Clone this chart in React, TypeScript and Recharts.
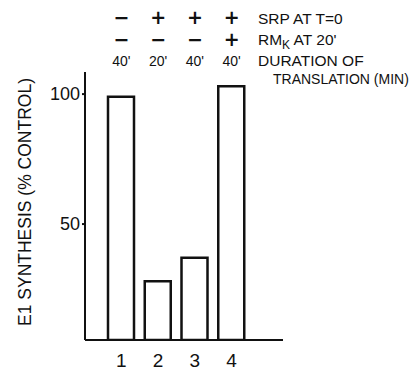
import React from "react";
import { BarChart, Bar, XAxis, YAxis } from "recharts";

const lanes = ["1", "2", "3", "4"];
const synthesis = [99, 28, 37, 103];
const srpAtT0 = ["−", "+", "+", "+"];
const rmkAt20 = ["−", "−", "−", "+"];
const durationMin = ["40'", "20'", "40'", "40'"];
const yTicks = [50, 100];

const data = lanes.map((lane, i) => ({ lane, value: synthesis[i] }));

const INK = "#111";
const SANS = "'Liberation Sans', Arial, sans-serif";
const NARROW = "'Liberation Sans Narrow', 'Liberation Sans', sans-serif";
const SYMBOL = "'DejaVu Sans', sans-serif";

// the lane number plus the three condition rows above the plot share the lane's x
// @ts-ignore
const LaneTick = ({ x, payload }) => {
  const i = payload.index;
  return (
    <g>
      <text x={x} y={24} textAnchor="middle" fontFamily={SYMBOL} fontWeight="bold" fontSize={19} fill={INK}>
        {srpAtT0[i]}
      </text>
      <text x={x} y={46} textAnchor="middle" fontFamily={SYMBOL} fontWeight="bold" fontSize={19} fill={INK}>
        {rmkAt20[i]}
      </text>
      <text x={x} y={66} textAnchor="middle" fontFamily={NARROW} fontSize={14} fill={INK}>
        {durationMin[i]}
      </text>
      <text x={x} y={367} textAnchor="middle" fontFamily={NARROW} fontSize={19} fill={INK}>
        {payload.value}
      </text>
    </g>
  );
};

const App = () => {
  return (
    <div style={{ position: "absolute", left: 0, top: 0, width: 409, height: 370, background: "#fff" }}>
      <BarChart
        width={409}
        height={370}
        data={data}
        margin={{ top: 72, right: 126, bottom: 5, left: 45 }}
      >
        <XAxis
          dataKey="lane"
          height={25}
          padding={{ left: 18, right: 33 }}
          axisLine={{ stroke: INK, strokeWidth: 2 }}
          tickLine={false}
          interval={0}
          tick={LaneTick}
        />
        <YAxis
          width={40}
          domain={[5.4, 108.5]}
          ticks={yTicks}
          allowDataOverflow
          axisLine={{ stroke: INK, strokeWidth: 2 }}
          tickLine={{ stroke: INK, strokeWidth: 2 }}
          tickSize={3}
          tickMargin={2}
          tick={{ fill: INK, fontFamily: NARROW, fontSize: 18 }}
        />
        <Bar
          dataKey="value"
          barSize={26}
          fill="#fff"
          stroke={INK}
          strokeWidth={2.5}
          isAnimationActive={false}
        />
      </BarChart>
      <svg
        width={409}
        height={370}
        style={{ position: "absolute", left: 0, top: 0, pointerEvents: "none" }}
      >
        <g fontFamily={SANS} fontSize={15.5} fill={INK}>
          <text x={258} y={24}>SRP AT  T=0</text>
          <text x={258} y={45}>
            RM<tspan fontSize={12} dy={4}>K</tspan>
            <tspan dy={-4}> AT 20'</tspan>
          </text>
          <text x={258} y={66}>DURATION OF</text>
          <text x={273} y={84} fontSize={14}>TRANSLATION (MIN)</text>
        </g>
        <text
          transform="translate(31,202) rotate(-90)"
          textAnchor="middle"
          fontFamily={SANS}
          fontSize={17.5}
          fill={INK}
        >
          E1 SYNTHESIS (% CONTROL)
        </text>
      </svg>
    </div>
  );
};

export default App;
